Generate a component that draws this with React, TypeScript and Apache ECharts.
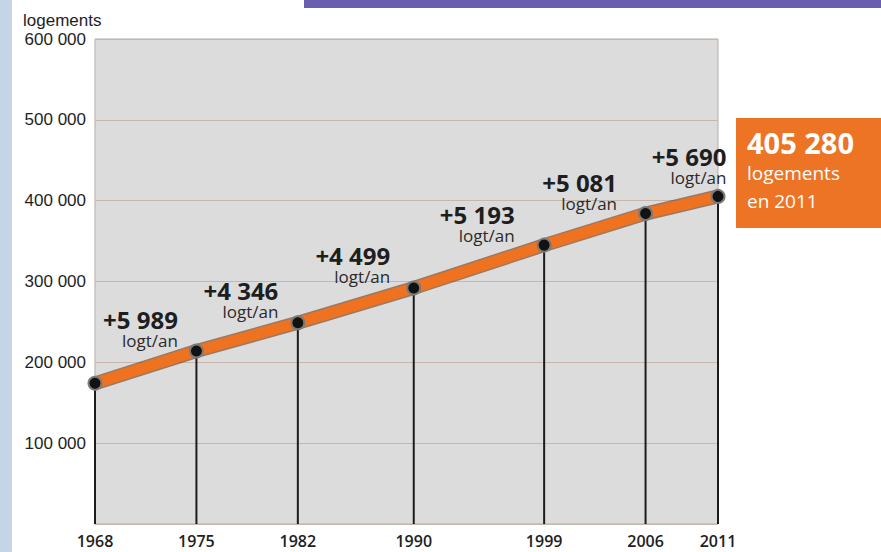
import React, { useEffect, useRef } from "react";
import * as echarts from "echarts";

const years = [1968, 1975, 1982, 1990, 1999, 2006, 2011];
const housing = [174000, 214000, 249000, 292000, 345000, 384000, 405280];
const growthLabels = ["", "+5 989", "+4 346", "+4 499", "+5 193", "+5 081", "+5 690"];
const growthUnit = "logt/an";
const yTicks = [0, 100000, 200000, 300000, 400000, 500000, 600000];
const yAxisTitle = "logements";
const boxValue = "405 280";
const boxLine1 = "logements";
const boxLine2 = "en 2011";

// label layout (style only)
const labelOffsets: [number, number][] = [
  [0, 0],
  [-11, -23],
  [-12, -23],
  [-16, -23],
  [-22, -22],
  [-21, -22],
  [16, -31],
];

const fmt = (v: number) => {
  if (v === 0) return "";
  const k = Math.round(v / 1000);
  return `${k} 000`;
};

export default function App() {
  const ref = useRef<HTMLDivElement>(null);
  useEffect(() => {
    if (!ref.current) return;
    const chart = echarts.init(ref.current, null, { renderer: "svg" });
    const pts = years.map((y, i) => [y, housing[i]]);
    const lineData = pts.map((p, i) => ({
      value: p,
      label:
        i === 0
          ? { show: false }
          : {
              show: true,
              position: "left" as const,
              distance: 0,
              offset: labelOffsets[i],
              align: "right" as const,
              formatter: `{big|${growthLabels[i]}}\n{small|${growthUnit}}`,
            },
    }));
    chart.setOption({
      animation: false,
      backgroundColor: "#ffffff",
      grid: {
        left: 95,
        top: 39,
        width: 623,
        height: 485,
        show: true,
        backgroundColor: "#dcdcdd",
        borderColor: "#b9ada7",
        borderWidth: 1,
      },
      xAxis: {
        type: "value",
        min: years[0],
        max: years[years.length - 1],
        axisLine: { show: false },
        axisTick: { show: false },
        splitLine: { show: false },
        axisLabel: {
          customValues: years,
          margin: 9,
          color: "#1e1e1e",
          fontFamily: "Open Sans",
          fontWeight: 600,
          fontSize: 16,
          formatter: (v: number) => String(v),
        },
      },
      yAxis: {
        type: "value",
        min: yTicks[0],
        max: yTicks[yTicks.length - 1],
        interval: 100000,
        axisLine: { show: false },
        axisTick: { show: false },
        splitLine: { lineStyle: { color: "#c7b6ad", width: 1 } },
        axisLabel: {
          margin: 9,
          color: "#1e1e1e",
          fontFamily: "Liberation Sans",
          fontSize: 17,
          formatter: fmt,
        },
      },
      graphic: [
        { type: "rect", shape: { x: 0, y: 0, width: 12, height: 552 }, style: { fill: "#c6d4e8" } },
        { type: "rect", shape: { x: 304, y: 0, width: 577, height: 8 }, style: { fill: "#6a5fae" } },
        {
          type: "text",
          x: 23,
          y: 20,
          style: {
            text: yAxisTitle,
            fill: "#1e1e1e",
            font: "17px 'Liberation Sans'",
            verticalAlign: "middle",
          },
        },
        { type: "rect", shape: { x: 736, y: 118, width: 145, height: 110 }, style: { fill: "#ec7424" } },
        {
          type: "text",
          x: 747,
          y: 142,
          style: {
            text: boxValue,
            fill: "#ffffff",
            font: "bold 29px 'Open Sans'",
            verticalAlign: "middle",
          },
        },
        {
          type: "text",
          x: 747,
          y: 173,
          style: { text: boxLine1, fill: "#ffffff", font: "19px 'Open Sans'", verticalAlign: "middle" },
        },
        {
          type: "text",
          x: 747,
          y: 201,
          style: { text: boxLine2, fill: "#ffffff", font: "19px 'Open Sans'", verticalAlign: "middle" },
        },
      ],
      series: [
        {
          type: "bar",
          data: pts,
          barWidth: 2,
          itemStyle: { color: "#1c1c1c" },
          silent: true,
          z: 1,
        },
        {
          type: "line",
          data: pts,
          symbol: "none",
          clip: false,
          lineStyle: { width: 14, color: "rgba(110,55,20,0.6)" },
          z: 2,
        },
        {
          type: "line",
          data: lineData,
          clip: false,
          symbol: "circle",
          symbolSize: 13,
          itemStyle: { color: "#121212", borderColor: "#7a7a7a", borderWidth: 2 },
          lineStyle: { width: 11, color: "#ee7220" },
          label: {
            rich: {
              big: {
                fontFamily: "Open Sans",
                fontWeight: "bold",
                fontSize: 24,
                color: "#1e1e1e",
                lineHeight: 24,
                align: "right",
              },
              small: {
                fontFamily: "Open Sans",
                fontSize: 17,
                color: "#2a2a2a",
                lineHeight: 18,
                align: "right",
              },
            },
          },
          z: 3,
        },
      ],
    });
    return () => chart.dispose();
  }, []);
  return (
    <div
      ref={ref}
      style={{ position: "absolute", left: 0, top: 0, width: 881, height: 552 }}
    />
  );
}
